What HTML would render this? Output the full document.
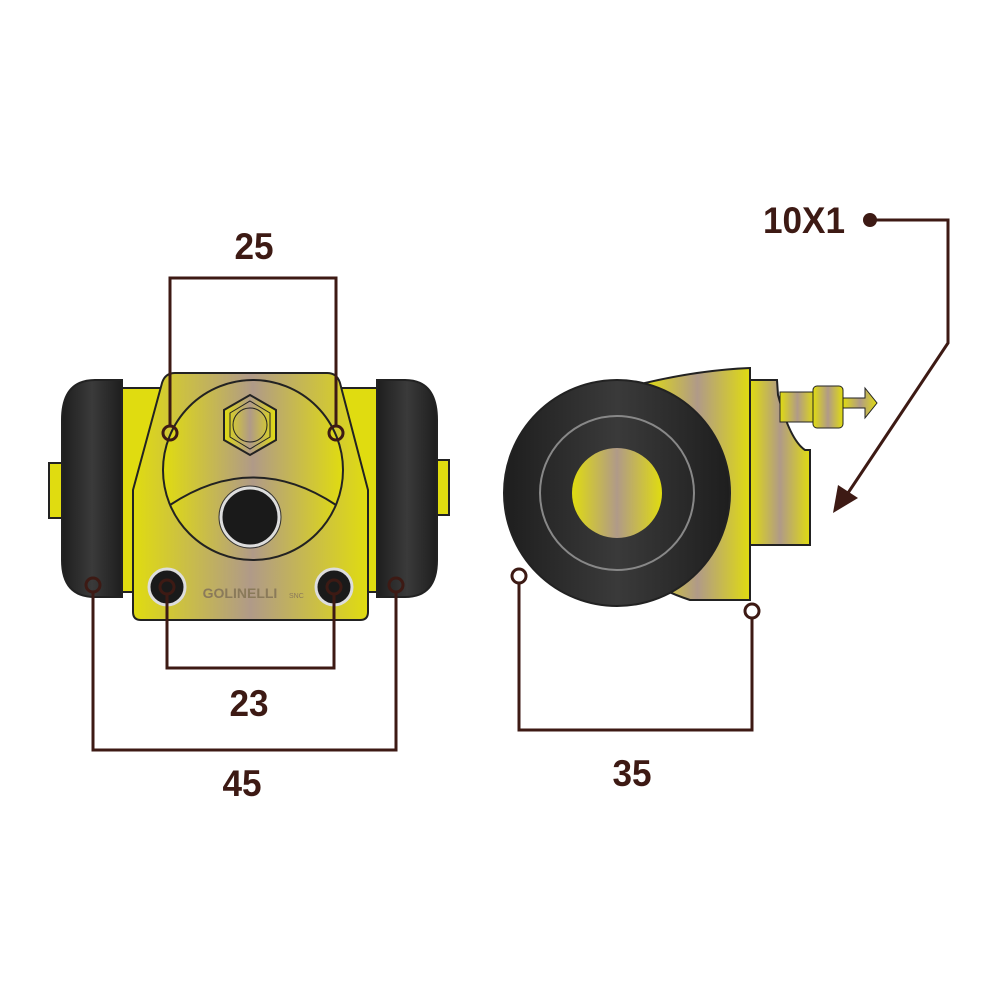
<!DOCTYPE html>
<html><head><style>html,body{margin:0;padding:0;background:#fff}svg{display:block}</style></head>
<body>
<svg width="1000" height="1000" viewBox="0 0 1000 1000" xmlns="http://www.w3.org/2000/svg">
<defs>
<linearGradient id="g" x1="0" x2="1" y1="0" y2="0">
<stop offset="0" stop-color="#e0dc10"/><stop offset="0.5" stop-color="#b09a88"/><stop offset="1" stop-color="#e0dc10"/></linearGradient>
<linearGradient id="gb" x1="0" x2="1"><stop offset="0" stop-color="#1e1e1e"/><stop offset="0.5" stop-color="#3a3a3a"/><stop offset="1" stop-color="#1e1e1e"/></linearGradient>
</defs>
<g stroke="#222" stroke-width="2">
<rect x="49" y="463" width="14" height="55" fill="#e0dc10"/>
<rect x="436" y="460" width="13" height="55" fill="#e0dc10"/>
<rect x="118" y="388" width="262" height="204" fill="#e0dc10"/>
<path d="M122 380 H95 Q62 380 62 420 V560 Q62 597 95 597 H122 Z" fill="url(#gb)"/>
<path d="M377 380 H405 Q437 380 437 420 V560 Q437 597 405 597 H377 Z" fill="url(#gb)"/>
<path d="M175 373 H327 Q337 373 340 383 L368 490 V612 Q368 620 360 620 H141 Q133 620 133 612 V490 L162 383 Q165 373 175 373 Z" fill="url(#g)"/>
<circle cx="253" cy="470" r="90" fill="url(#g)"/>
<path d="M170 505 Q253 450 336 505" fill="none"/>
<polygon points="250,395 276,410 276,440 250,455 224,440 224,410" fill="url(#g)"/>
<polygon points="250,401 270,413 270,437 250,449 230,437 230,413" fill="none" stroke-width="1"/>
<circle cx="250" cy="425" r="17" fill="none" stroke-width="1"/>
<circle cx="250" cy="517" r="29" fill="#1a1a1a" stroke="#ddd" stroke-width="3"/>
<circle cx="250" cy="517" r="31" fill="none" stroke="#333" stroke-width="1"/>
<circle cx="167" cy="587" r="18" fill="#1a1a1a" stroke="#ddd" stroke-width="3"/>
<circle cx="334" cy="587" r="18" fill="#1a1a1a" stroke="#ddd" stroke-width="3"/>
<path d="M645 383 Q700 370 750 368 V600 H690 Q660 590 650 580 Z" fill="url(#g)"/>
<path d="M750 380 H777 L778 395 Q790 440 805 450 H810 V545 H750 Z" fill="url(#g)"/>
<rect x="780" y="392" width="35" height="30" fill="url(#g)" stroke-width="1"/>
<rect x="813" y="386" width="30" height="42" rx="4" fill="url(#g)" stroke-width="1"/>
<path d="M843 398 H865 V388 L877 403 L865 418 V408 H843 Z" fill="url(#g)" stroke-width="1"/>
<circle cx="617" cy="493" r="113" fill="url(#gb)"/>
<circle cx="617" cy="493" r="77" fill="none" stroke="#888" stroke-width="2"/>
<circle cx="617" cy="493" r="45" fill="url(#g)" stroke="none"/>
</g>
<text x="240" y="598" font-family="Liberation Sans, sans-serif" font-weight="bold" font-size="14" fill="#8a7a5a" text-anchor="middle">GOLINELLI</text>
<text x="289" y="598" font-family="Liberation Sans, sans-serif" font-size="7" fill="#8a7a5a">SNC</text>
<g stroke="#3d1a14" stroke-width="3" fill="none">
<path d="M170 427 V278 H336 V427"/>
<circle cx="170" cy="433" r="7"/><circle cx="336" cy="433" r="7"/>
<path d="M167 594 V668 H334 V594"/>
<circle cx="167" cy="587" r="7"/><circle cx="334" cy="587" r="7"/>
<path d="M93 592 V750 H396 V592"/>
<circle cx="93" cy="585" r="7"/><circle cx="396" cy="585" r="7"/>
<path d="M519 583 V730 H752 V618"/>
<circle cx="519" cy="576" r="7" fill="#fff"/><circle cx="752" cy="611" r="7" fill="#fff"/>
<path d="M870 220 H948 V343 L840 505"/>
</g>
<circle cx="870" cy="220" r="7" fill="#3d1a14"/>
<polygon points="833,513 838,485 858,498" fill="#3d1a14"/>
<g font-family="Liberation Sans, sans-serif" font-weight="bold" font-size="37" fill="#3d1a14" text-anchor="middle">
<text x="254" y="259" transform="translate(254 0) scale(0.95 1) translate(-254 0)">25</text>
<text x="249" y="716" transform="translate(249 0) scale(0.95 1) translate(-249 0)">23</text>
<text x="242" y="796" transform="translate(242 0) scale(0.95 1) translate(-242 0)">45</text>
<text x="632" y="786" transform="translate(632 0) scale(0.95 1) translate(-632 0)">35</text>
<text x="804" y="233" transform="translate(804 0) scale(0.95 1) translate(-804 0)">10X1</text>
</g>
</svg>
</body></html>
